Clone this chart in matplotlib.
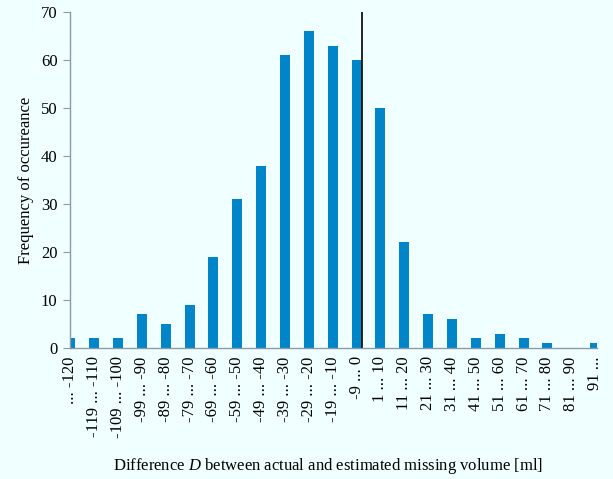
import matplotlib
matplotlib.use("Agg")
import matplotlib.pyplot as plt

categories = ["... -120", "-119 ... -110", "-109 ... -100", "-99 ... -90", "-89 ... -80",
              "-79 ... -70", "-69 ... -60", "-59 ... -50", "-49 ... -40", "-39 ... -30",
              "-29 ... -20", "-19 ... -10", "-9 ... 0", "1 ... 10", "11 ... 20",
              "21 ... 30", "31 ... 40", "41 ... 50", "51 ... 60", "61 ... 70",
              "71 ... 80", "81 ... 90", "91 ..."]
counts = [2, 2, 2, 7, 5, 9, 19, 31, 38, 61, 66, 63, 60, 50, 22, 7, 6, 2, 3, 2, 1, 0, 1]
yticks = [0, 10, 20, 30, 40, 50, 60, 70]

plt.rcParams['font.family'] = ['Liberation Serif', 'DejaVu Serif']
plt.rcParams['mathtext.fontset'] = 'custom'
plt.rcParams['mathtext.rm'] = 'Liberation Serif'
plt.rcParams['mathtext.it'] = 'Liberation Serif:italic'
bg = '#F0FFFF'
fs = 12
fig = plt.figure(figsize=(6.13, 4.79), dpi=100, facecolor=bg)
ax = fig.add_axes([0.114, 0.2735, 0.86, 0.7015], facecolor=bg)

x = list(range(len(categories)))
ax.bar(x, counts, width=0.42, color='#0085C8')
ax.axvline(12.21, ymin=0, ymax=1, color='black', lw=1.2)

ax.set_xlim(-0.02, 22.08)
ax.set_ylim(0, 70)
ax.set_yticks(yticks)
ax.set_xticks(x)
ax.set_xticklabels(categories, rotation=90, fontsize=fs)
ax.set_xticks([13], minor=True)
ax.tick_params(axis='x', which='major', length=0, pad=6)
ax.tick_params(axis='x', which='minor', length=4, color='#8899AA')
ax.tick_params(axis='y', length=5, direction='out', color='#8899AA', labelsize=fs, pad=4)
for s in ['top', 'right']:
    ax.spines[s].set_visible(False)
for s in ['left', 'bottom']:
    ax.spines[s].set_color('#8899AA')
    ax.spines[s].set_linewidth(1.0)

ax.set_ylabel('Frequency of occureance', fontsize=fs, labelpad=5)
fig.text(0.535, 0.027, r'Difference $\mathit{D}$ between actual and estimated missing volume [ml]',
         ha='center', va='center', fontsize=fs)

fig.savefig('out.png', dpi=100, facecolor=bg)
